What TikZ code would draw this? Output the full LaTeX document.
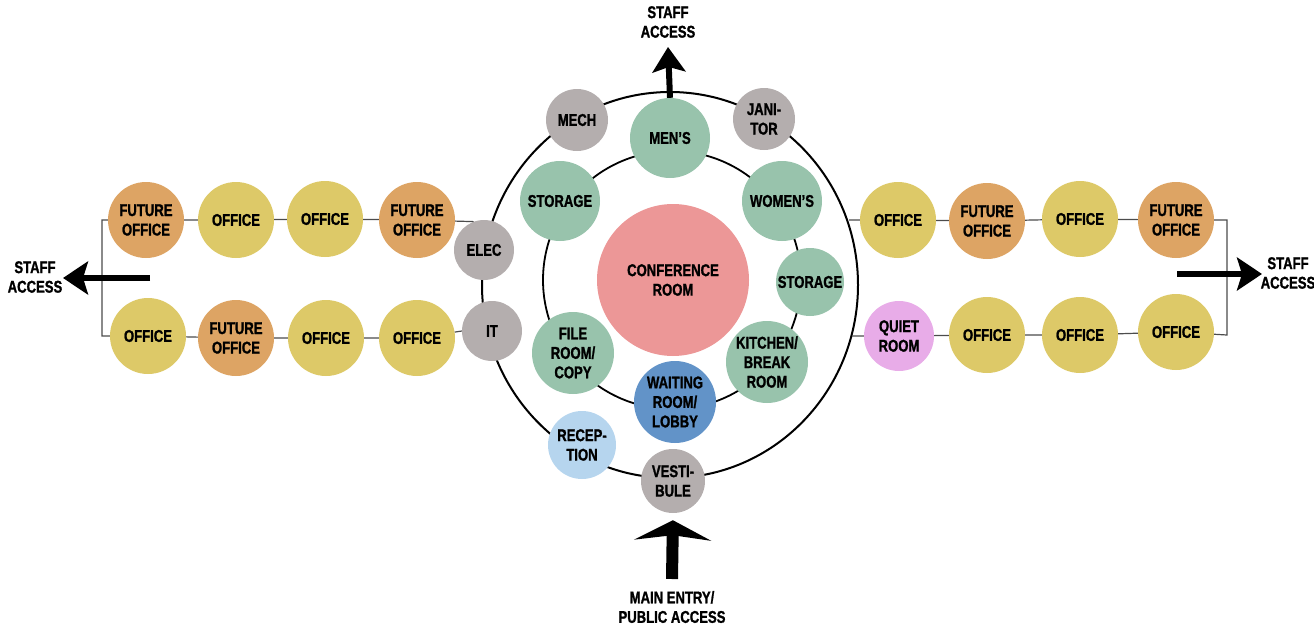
\documentclass[tikz,border=0pt]{standalone}
\usepackage{fontspec}
\setmainfont{Liberation Sans}[FakeStretch=0.77, BoldFeatures={FakeBold=1.2}]
\usetikzlibrary{shapes.geometric,arrows.meta}
\definecolor{cFut}{RGB}{221,164,100}
\definecolor{cOff}{RGB}{221,201,104}
\definecolor{cGray}{RGB}{180,174,174}
\definecolor{cGreen}{RGB}{152,195,172}
\definecolor{cPink}{RGB}{236,151,151}
\definecolor{cBlue}{RGB}{98,147,200}
\definecolor{cLBlue}{RGB}{182,213,238}
\definecolor{cQuiet}{RGB}{232,172,232}
\begin{document}
\begin{tikzpicture}[x=1pt,y=-1pt,
  txt/.style={inner sep=0pt, align=center, font=\bfseries\fontsize{17}{19.5}\selectfont, text=black},
  room/.style={txt, circle, minimum size=#1},
  room/.default=76,
  off/.style={room, fill=cOff},
  fut/.style={room, fill=cFut},
  gry/.style={room=#1, fill=cGray},
  grn/.style={room=#1, fill=cGreen},
  wing/.style={draw=black!70, line width=1.2pt},
  bigarrow/.style={line width=6pt, -{Stealth[length=25pt, width=33pt, inset=5pt]}},
  entryarrow/.style={line width=12pt, -{Stealth[length=20pt, width=77pt, inset=5pt]}}
]
\useasboundingbox (0,0) rectangle (1314,626);

% rings
\node[draw, line width=2pt, ellipse, minimum width=376pt, minimum height=386pt, inner sep=0pt] (ring) at (670,285) {};
\node[draw, line width=1.8pt, circle, minimum size=258pt, inner sep=0pt] (inner) at (672,280) {};

% core rooms
\node[gry=62] (mech) at (577,120) {MECH};
\node[gry=62] (jan) at (764,119) {JANI-\\TOR};
\node[grn=80] (mens) at (670,138) {MEN’S};
\node[grn=80] (stL) at (560,201) {STORAGE};
\node[grn=80] (wom) at (782,201) {WOMEN’S};
\node[gry=60] (elec) at (484,250) {ELEC};
\node[gry=60] (it) at (492,331) {IT};
\node[room=152, fill=cPink] (conf) at (673,280) {CONFERENCE\\ROOM};
\node[grn=68] (stR) at (810,282) {STORAGE};
\node[grn=82] (file) at (573,353) {FILE\\ROOM/\\COPY};
\node[grn=82] (kit) at (767,362) {KITCHEN/\\BREAK\\ROOM};
\node[room=82, fill=cBlue] (wait) at (675,402) {WAITING\\ROOM/\\LOBBY};
\node[room=68, fill=cLBlue] (rec) at (582,445) {RECEP-\\TION};
\node[gry=64] (vest) at (673,481) {VESTI-\\BULE};

% left wing
\node[fut] (lt1) at (146,220) {FUTURE\\OFFICE};
\node[off] (lt2) at (236,220) {OFFICE};
\node[off] (lt3) at (325,219) {OFFICE};
\node[fut] (lt4) at (417,220) {FUTURE\\OFFICE};
\node[off] (lb1) at (148,336) {OFFICE};
\node[fut] (lb2) at (236,338) {FUTURE\\OFFICE};
\node[off] (lb3) at (326,338) {OFFICE};
\node[off] (lb4) at (417,338) {OFFICE};
\coordinate (lbrT) at (102,220);
\coordinate (lbrB) at (102,336);

% right wing
\node[off] (rt1) at (898,220) {OFFICE};
\node[fut] (rt2) at (987,221) {FUTURE\\OFFICE};
\node[off] (rt3) at (1080,219) {OFFICE};
\node[fut] (rt4) at (1176,220) {FUTURE\\OFFICE};
\node[room=70, fill=cQuiet] (rb1) at (899,336) {QUIET\\ROOM};
\node[off] (rb2) at (987,335) {OFFICE};
\node[off] (rb3) at (1080,335) {OFFICE};
\node[off] (rb4) at (1176,332) {OFFICE};
\coordinate (rbrT) at (1227,220);
\coordinate (rbrB) at (1227,335);

% wing connectors
\draw[wing] (lb1) -- (lbrB) -- (lbrT) -- (lt1) -- (lt2) -- (lt3) -- (lt4) -- (elec.110);
\draw[wing] (lb1) -- (lb2) -- (lb3) -- (lb4) -- (it.west);
\draw[wing] (ring.19 |- rt1) -- (rt1) -- (rt2) -- (rt3) -- (rt4) -- (rbrT) -- (rbrB) -- (rb4);
\draw[wing] (ring.-16 |- rb1) -- (rb1) -- (rb2) -- (rb3) -- (rb4);

% access labels and arrows
\node[txt] (topacc) at (668,22) {STAFF\\ACCESS};
\coordinate (topTip) at (668,47);
\draw[bigarrow] (mens.north) -- (topTip);

\node[txt] (leftacc) at (35,277) {STAFF\\ACCESS};
\coordinate (leftStart) at (150,278);
\coordinate (leftTip) at (63,278);
\draw[bigarrow] (leftStart) -- (leftTip);

\node[txt] (rightacc) at (1288,273) {STAFF\\ACCESS};
\coordinate (rightStart) at (1177,274);
\coordinate (rightTip) at (1262,274);
\draw[bigarrow] (rightStart) -- (rightTip);

\node[txt] (mainacc) at (672,607) {MAIN ENTRY/\\PUBLIC ACCESS};
\coordinate (mainStart) at (672,579);
\draw[entryarrow, shorten >=7pt] (mainStart) -- (vest.south);
\end{tikzpicture}
\end{document}
